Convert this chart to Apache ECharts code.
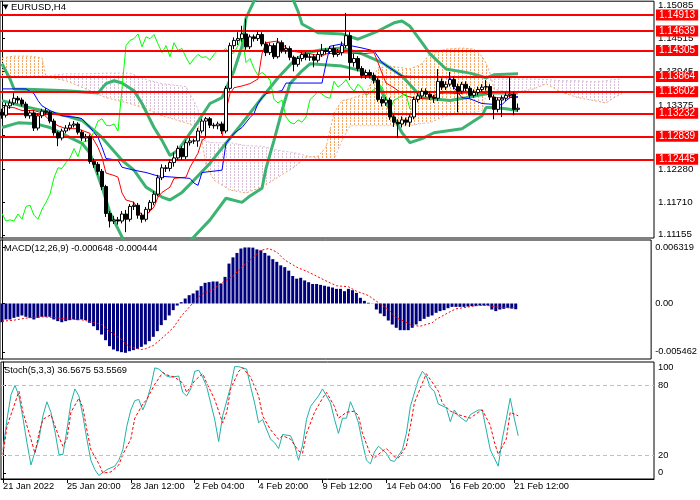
<!DOCTYPE html>
<html>
<head>
<meta charset="utf-8">
<title>EURUSD,H4</title>
<script src="https://cdn.jsdelivr.net/npm/echarts@6/dist/echarts.min.js"></script>
<style>html,body{margin:0;padding:0;background:#fff;}</style>
</head>
<body>
<div id="main" style="width:700px;height:500px;"></div>
<script type="text/javascript">
// H4 bars, index 0 = 21 Jan 2022
var opens = [1.1325,1.1320,1.1336,1.1341,1.1349,1.1346,1.1339,1.1319,1.1324,1.1298,
  1.1319,1.1327,1.1325,1.1310,1.1290,1.1281,1.1293,1.1298,1.1303,1.1305,
  1.1291,1.1281,1.1283,1.1241,1.1236,1.1224,1.1198,1.1152,1.1139,1.1141,
  1.1139,1.1151,1.1142,1.1164,1.1166,1.1149,1.1142,1.1159,1.1171,1.1185,
  1.1213,1.1230,1.1229,1.1239,1.1247,1.1263,1.1249,1.1273,1.1276,1.1276,
  1.1293,1.1310,1.1314,1.1303,1.1302,1.1305,1.1293,1.1366,1.1439,1.1448,
  1.1451,1.1459,1.1437,1.1454,1.1451,1.1458,1.1442,1.1427,1.1439,1.1420,
  1.1444,1.1431,1.1434,1.1419,1.1407,1.1417,1.1424,1.1419,1.1420,1.1414,
  1.1424,1.1431,1.1429,1.1434,1.1424,1.1427,1.1439,1.1456,1.1410,1.1417,
  1.1400,1.1388,1.1393,1.1388,1.1380,1.1347,1.1341,1.1346,1.1317,1.1308,
  1.1305,1.1312,1.1308,1.1317,1.1347,1.1353,1.1361,1.1356,1.1351,1.1349,
  1.1378,1.1368,1.1373,1.1381,1.1369,1.1361,1.1373,1.1366,1.1354,1.1359,
  1.1364,1.1368,1.1369,1.1351,1.1330,1.1346,1.1349,1.1354,1.1356,1.1330];
var closes = [1.1320,1.1336,1.1341,1.1349,1.1346,1.1339,1.1319,1.1324,1.1298,1.1319,
  1.1327,1.1325,1.1310,1.1290,1.1281,1.1293,1.1298,1.1303,1.1305,1.1291,
  1.1281,1.1283,1.1241,1.1236,1.1224,1.1198,1.1152,1.1139,1.1141,1.1139,
  1.1151,1.1142,1.1164,1.1166,1.1149,1.1142,1.1159,1.1171,1.1185,1.1213,
  1.1230,1.1229,1.1239,1.1247,1.1263,1.1249,1.1273,1.1276,1.1276,1.1293,
  1.1310,1.1314,1.1303,1.1302,1.1305,1.1293,1.1366,1.1439,1.1448,1.1451,
  1.1459,1.1437,1.1454,1.1451,1.1458,1.1442,1.1427,1.1439,1.1420,1.1444,
  1.1431,1.1434,1.1419,1.1407,1.1417,1.1424,1.1419,1.1420,1.1414,1.1424,
  1.1431,1.1429,1.1434,1.1424,1.1427,1.1439,1.1456,1.1410,1.1417,1.1400,
  1.1388,1.1393,1.1388,1.1380,1.1347,1.1341,1.1346,1.1317,1.1308,1.1305,
  1.1312,1.1308,1.1317,1.1347,1.1353,1.1361,1.1356,1.1351,1.1349,1.1378,
  1.1368,1.1373,1.1381,1.1369,1.1361,1.1373,1.1366,1.1354,1.1359,1.1364,
  1.1368,1.1369,1.1351,1.1330,1.1346,1.1349,1.1354,1.1356,1.1330,1.1332];
var lows = [1.1314,1.1316,1.1331,1.1337,1.1340,1.1335,1.1315,1.1314,1.1293,1.1294,
  1.1315,1.1320,1.1306,1.1285,1.1267,1.1277,1.1289,1.1294,1.1299,1.1287,
  1.1276,1.1275,1.1237,1.1230,1.1218,1.1192,1.1146,1.1128,1.1134,1.1133,
  1.1135,1.1120,1.1138,1.1158,1.1143,1.1136,1.1138,1.1154,1.1166,1.1181,
  1.1209,1.1223,1.1224,1.1232,1.1243,1.1244,1.1245,1.1268,1.1271,1.1266,
  1.1289,1.1283,1.1298,1.1297,1.1296,1.1288,1.1289,1.1362,1.1433,1.1440,
  1.1446,1.1432,1.1433,1.1446,1.1447,1.1438,1.1421,1.1423,1.1416,1.1417,
  1.1426,1.1425,1.1414,1.1395,1.1403,1.1412,1.1414,1.1413,1.1402,1.1410,
  1.1420,1.1424,1.1425,1.1419,1.1420,1.1422,1.1435,1.1380,1.1403,1.1395,
  1.1383,1.1382,1.1383,1.1374,1.1343,1.1335,1.1336,1.1312,1.1300,1.1281,
  1.1299,1.1302,1.1300,1.1313,1.1342,1.1348,1.1351,1.1346,1.1341,1.1344,
  1.1363,1.1363,1.1369,1.1364,1.1325,1.1356,1.1361,1.1349,1.1350,1.1354,
  1.1360,1.1362,1.1346,1.1313,1.1325,1.1317,1.1344,1.1350,1.1320,1.1326];
var highs = [1.1331,1.1341,1.1347,1.1358,1.1353,1.1350,1.1343,1.1329,1.1328,1.1323,
  1.1331,1.1332,1.1328,1.1314,1.1293,1.1297,1.1303,1.1308,1.1310,1.1308,
  1.1295,1.1288,1.1287,1.1246,1.1240,1.1228,1.1201,1.1156,1.1148,1.1146,
  1.1156,1.1158,1.1168,1.1172,1.1170,1.1153,1.1163,1.1175,1.1190,1.1218,
  1.1236,1.1235,1.1244,1.1256,1.1268,1.1267,1.1277,1.1281,1.1280,1.1298,
  1.1314,1.1317,1.1317,1.1307,1.1309,1.1309,1.1370,1.1444,1.1453,1.1462,
  1.1473,1.1485,1.1458,1.1458,1.1463,1.1462,1.1446,1.1444,1.1443,1.1452,
  1.1448,1.1440,1.1438,1.1422,1.1421,1.1428,1.1428,1.1425,1.1424,1.1428,
  1.1442,1.1435,1.1438,1.1440,1.1433,1.1446,1.1495,1.1462,1.1425,1.1421,
  1.1404,1.1398,1.1398,1.1393,1.1384,1.1352,1.1351,1.1350,1.1321,1.1313,
  1.1318,1.1316,1.1321,1.1352,1.1358,1.1366,1.1366,1.1360,1.1355,1.1399,
  1.1383,1.1378,1.1394,1.1386,1.1374,1.1377,1.1378,1.1370,1.1364,1.1369,
  1.1373,1.1380,1.1373,1.1355,1.1350,1.1354,1.1359,1.1385,1.1360,1.1340];

var tickLabels = ['21 Jan 2022','25 Jan 20:00','28 Jan 12:00','2 Feb 04:00','4 Feb 20:00','9 Feb 12:00','14 Feb 04:00','16 Feb 20:00','21 Feb 12:00'];
var tickStep = 16;
var priceTicks = [1.15085,1.14515,1.13945,1.13375,1.12850,1.12280,1.11710,1.11155];
var levels = [1.14913,1.14639,1.14305,1.13864,1.13602,1.13232,1.12839,1.12445];

// Bollinger bands [bar, price]
var bbUpper = [[0,1.1408],[2,1.1382],[3,1.1365],[8,1.1364],[16,1.1362],[24,1.1358],[26,1.1374],[28,1.1379],[30,1.1375],[33,1.1362],[35,1.1340],[38,1.1299],[40,1.1277],[42,1.1251],[44,1.1260],[48,1.1299],[52,1.1340],[55,1.1350],[58,1.1396],[60,1.1438],[61,1.1486],[63,1.1515],[66,1.1540],[70,1.1545],[72,1.1530],[74,1.1498],[75,1.1476],[79,1.1461],[85,1.1459],[89,1.1450],[94,1.1464],[98,1.1478],[100,1.1481],[102,1.1472],[105,1.1444],[107,1.1425],[111,1.1399],[117,1.1392],[121,1.1384],[123,1.1389],[129,1.1391]];
var bbMid = [[0,1.1345],[5,1.1336],[10,1.1328],[16,1.1319],[20,1.1311],[25,1.1282],[30,1.1243],[33,1.1226],[36,1.1197],[40,1.1180],[42,1.1175],[45,1.1188],[48,1.1209],[52,1.1238],[56,1.1272],[60,1.1306],[65,1.1350],[69,1.1384],[73,1.1413],[76,1.1427],[80,1.1432],[85,1.1435],[90,1.1425],[95,1.1410],[100,1.1387],[105,1.1350],[112,1.1345],[116,1.1350],[122,1.1358],[129,1.1358]];
var bbLower = [[0,1.1299],[4,1.1307],[8,1.1306],[12,1.1299],[16,1.1285],[20,1.1272],[22,1.1255],[25,1.1197],[27,1.1153],[30,1.1112],[32,1.1081],[37,1.1056],[42,1.1090],[46,1.1098],[48,1.1112],[52,1.1141],[56,1.1178],[60,1.1171],[62,1.1182],[65,1.1195],[66,1.1229],[68,1.1277],[70,1.1328],[72,1.1374],[75,1.1396],[77,1.1408],[85,1.1404],[90,1.1396],[94,1.1375],[97,1.1328],[100,1.1290],[102,1.1273],[105,1.1280],[108,1.1290],[115,1.1297],[120,1.1319],[121,1.1333],[123,1.1333],[126,1.1331],[129,1.1328]];

// Ichimoku
var tenkan = [[0,1.1333],[3,1.1333],[5,1.1328],[8,1.1328],[10,1.1324],[12,1.1311],[14,1.1302],[16,1.1297],[19,1.1297],[20,1.1294],[22,1.1289],[24,1.1265],[25,1.1248],[26,1.1221],[28,1.1217],[29,1.1214],[30,1.1187],[31,1.1175],[33,1.1171],[34,1.1158],[35,1.1149],[36,1.1149],[38,1.1163],[39,1.1180],[40,1.1188],[42,1.1197],[43,1.1212],[46,1.1214],[47,1.1231],[49,1.1255],[50,1.1277],[51,1.1282],[55,1.1282],[56,1.1328],[57,1.1357],[58,1.1367],[60,1.1370],[62,1.1374],[64,1.1382],[65,1.1425],[66,1.1444],[69,1.1447],[70,1.1442],[72,1.1430],[75,1.1427],[77,1.1425],[80,1.1421],[81,1.1425],[85,1.1427],[90,1.1425],[93,1.1427],[94,1.1410],[95,1.1392],[96,1.1375],[98,1.1367],[99,1.1362],[101,1.1353],[104,1.1348],[107,1.1350],[109,1.1357],[111,1.1358],[114,1.1357],[116,1.1358],[120,1.1358],[121,1.1357],[123,1.1350],[125,1.1350],[127,1.1353],[129,1.1350]];
var kijun = [[0,1.1365],[6,1.1365],[8,1.1357],[9,1.1345],[10,1.1336],[12,1.1328],[15,1.1319],[19,1.1316],[20,1.1314],[22,1.1299],[24,1.1282],[25,1.1265],[26,1.1246],[29,1.1243],[30,1.1231],[33,1.1226],[36,1.1222],[39,1.1216],[47,1.1212],[48,1.1204],[49,1.1200],[50,1.1222],[55,1.1226],[56,1.1272],[58,1.1289],[60,1.1299],[62,1.1316],[63,1.1323],[64,1.1340],[65,1.1350],[66,1.1357],[70,1.1362],[71,1.1375],[80,1.1375],[81,1.1408],[82,1.1438],[85,1.1442],[90,1.1435],[93,1.1430],[95,1.1410],[98,1.1396],[100,1.1387],[112,1.1384],[113,1.1367],[115,1.1350],[117,1.1348],[120,1.1340],[124,1.1338],[125,1.1338],[126,1.1345],[127,1.1350],[129,1.1352]];
var chikouShift = 26;
var spanIdx = [0,3,7,10,11,16,21,26,32,36,40,46,49,50,51,53,57,61,65,69,73,76,79,81,83,85,87,91,94,97,102,105,107,111,115,118,120,121,122,123,127,133,136,140,144,148,151,153,155];
var spanA = [1.1418,1.1421,1.1421,1.1418,1.1386,1.1379,1.1365,1.1350,1.1340,1.1331,1.1319,1.1307,1.1299,1.1277,1.1234,1.1209,1.1192,1.1187,1.1197,1.1214,1.1231,1.1248,1.1250,1.1265,1.1324,1.1345,1.1348,1.1357,1.1401,1.1404,1.1399,1.1408,1.1425,1.1433,1.1435,1.1433,1.1421,1.1409,1.1392,1.1365,1.1357,1.1365,1.1374,1.1359,1.1350,1.1345,1.1341,1.1350,1.1357];
var spanB = [1.1384,1.1384,1.1386,1.1387,1.1387,1.1391,1.1391,1.1392,1.1392,1.1381,1.1374,1.1369,1.1331,1.1280,1.1275,1.1273,1.1273,1.1268,1.1267,1.1260,1.1256,1.1251,1.1246,1.1243,1.1243,1.1277,1.1302,1.1302,1.1302,1.1302,1.1302,1.1306,1.1307,1.1319,1.1323,1.1324,1.1328,1.1353,1.1379,1.1382,1.1382,1.1382,1.1381,1.1379,1.1379,1.1377,1.1379,1.1381,1.1382];

// MACD(12,26,9)
var macdMain = [-0.00211,-0.00180,-0.00180,-0.00162,-0.00150,-0.00135,-0.00150,-0.00162,-0.00180,-0.00162,
  -0.00150,-0.00150,-0.00150,-0.00180,-0.00199,-0.00211,-0.00199,-0.00188,-0.00180,-0.00188,
  -0.00180,-0.00188,-0.00218,-0.00256,-0.00301,-0.00350,-0.00414,-0.00481,-0.00519,-0.00538,
  -0.00549,-0.00556,-0.00538,-0.00526,-0.00511,-0.00489,-0.00462,-0.00425,-0.00376,-0.00312,
  -0.00244,-0.00188,-0.00135,-0.00075,-0.00023,0.00015,0.00056,0.00094,0.00113,0.00147,
  0.00196,0.00233,0.00241,0.00248,0.00248,0.00226,0.00300,0.00450,0.00520,0.00570,
  0.00620,0.00632,0.00632,0.00630,0.00610,0.00600,0.00570,0.00540,0.00500,0.00470,
  0.00430,0.00410,0.00370,0.00310,0.00280,0.00290,0.00260,0.00240,0.00220,0.00220,
  0.00210,0.00200,0.00190,0.00180,0.00165,0.00165,0.00139,0.00165,0.00150,0.00120,
  0.00064,0.00030,0.00008,-0.00002,-0.00068,-0.00113,-0.00143,-0.00192,-0.00237,-0.00274,
  -0.00301,-0.00301,-0.00301,-0.00274,-0.00237,-0.00199,-0.00173,-0.00150,-0.00135,-0.00105,
  -0.00086,-0.00075,-0.00053,-0.00038,-0.00038,-0.00038,-0.00038,-0.00034,-0.00030,-0.00030,
  -0.00023,-0.00023,-0.00023,-0.00068,-0.00086,-0.00068,-0.00060,-0.00049,-0.00058,-0.00065];
var macdSignal = [[0,-0.0020],[3,-0.00188],[6,-0.00165],[10,-0.0015],[13,-0.00158],[16,-0.00173],[20,-0.00184],[22,-0.00203],[25,-0.00237],[27,-0.00312],[30,-0.00406],[32,-0.00489],[35,-0.00519],[36,-0.00511],[38,-0.00474],[40,-0.00399],[43,-0.00274],[45,-0.00143],[48,0.00008],[50,0.00102],[53,0.00158],[55,0.00226],[58,0.00308],[60,0.00402],[62,0.00477],[65,0.0060],[67,0.0062],[69,0.0058],[71,0.0049],[74,0.0041],[77,0.00353],[79,0.00308],[82,0.0024],[84,0.0020],[87,0.00188],[89,0.00139],[92,0.0009],[94,0.00026],[97,-0.00068],[99,-0.00162],[101,-0.0020],[103,-0.00248],[105,-0.00256],[108,-0.00218],[109,-0.0018],[112,-0.00105],[114,-0.0006],[117,-0.00041],[119,-0.00023],[122,-0.00023],[124,-0.00038],[127,-0.00049],[129,-0.000444]];
var macdTicks = [0.006319, 0, -0.005462];

// Stochastic(5,3,3)
var stochMain = [[0,25],[1,51],[2,72],[3,80],[4,71],[5,52],[6,31],[7,12],[9,34],[10,54],[11,66],[12,57],[13,41],[14,21],[15,21],[16,42],[17,65],[18,77],[19,71],[20,54],[21,34],[22,16],[23,8],[24,3],[26,8],[28,11],[29,16],[30,25],[31,45],[32,59],[33,67],[34,68],[35,59],[36,67],[37,79],[38,95],[39,94],[41,88],[42,87],[44,88],[45,74],[46,71],[47,77],[48,92],[49,93],[50,87],[51,79],[52,65],[53,51],[54,32],[55,54],[57,79],[58,96],[59,96],[61,94],[62,79],[63,65],[64,48],[65,51],[67,34],[68,31],[69,26],[70,38],[72,37],[73,29],[74,16],[75,29],[76,51],[77,62],[79,71],[80,77],[82,65],[83,51],[84,39],[85,52],[86,52],[87,66],[88,58],[89,48],[90,31],[91,16],[92,13],[93,23],[94,28],[96,22],[97,16],[98,15],[100,25],[101,39],[102,62],[104,85],[105,92],[106,88],[107,78],[108,75],[109,64],[111,61],[112,49],[113,59],[114,54],[116,49],[117,55],[119,59],[120,59],[121,42],[122,25],[124,11],[125,34],[126,51],[127,69],[128,52],[129,37]];
var stochSignal = [[0,21],[1,45],[3,65],[4,75],[5,57],[7,34],[8,22],[9,39],[10,51],[12,55],[14,36],[15,28],[16,34],[17,57],[19,69],[20,61],[21,42],[22,25],[24,13],[25,5],[27,6],[29,12],[30,21],[32,34],[33,52],[35,64],[36,68],[38,81],[40,91],[41,89],[43,87],[45,82],[46,74],[48,84],[50,90],[51,82],[53,68],[55,48],[56,57],[57,77],[59,92],[60,95],[62,87],[64,71],[65,54],[67,42],[69,34],[70,37],[72,34],[74,24],[75,22],[76,39],[78,57],[80,69],[81,74],[83,62],[84,52],[86,57],[88,58],[89,54],[90,39],[92,21],[93,18],[95,24],[96,26],[98,19],[99,18],[101,28],[102,45],[103,65],[105,82],[106,90],[107,85],[109,75],[110,65],[112,58],[114,55],[115,54],[117,52],[119,57],[120,59],[122,46],[123,32],[124,21],[126,34],[127,57],[129,54]];
var stochLevels = [20, 80];

var FONT = 'Liberation Sans, Arial, sans-serif';

// vertical dashed hatch, like the MT4 cloud
function hatch(color) {
  var cv = document.createElement('canvas');
  cv.width = 4; cv.height = 3;
  var ctx = cv.getContext('2d');
  ctx.fillStyle = color;
  ctx.fillRect(2, 0, 1, 2);
  return { image: cv, repeat: 'repeat' };
}
var bullHatch = hatch('#F4A460');
var bearHatch = hatch('#D8BFD8');

var candleData = closes.map(function (c, i) { return [i, opens[i], c, lows[i], highs[i]]; });
var chikou = closes.slice(chikouShift).map(function (c, k) { return [k, c]; });
var cloudSegs = [];
for (var k = 0; k < spanIdx.length - 1; k++) {
  cloudSegs.push([spanIdx[k], spanA[k], spanB[k], spanIdx[k + 1], spanA[k + 1], spanB[k + 1]]);
}

function line(data, color, width, dash, grid) {
  return {
    type: 'line', data: data, xAxisIndex: grid || 0, yAxisIndex: grid || 0,
    symbol: 'none', silent: true,
    lineStyle: { color: color, width: width, type: dash || 'solid' },
    z: 3
  };
}

var myChart = echarts.init(document.getElementById('main'));
var option = {
  animation: false,
  backgroundColor: '#fff',
  textStyle: { fontFamily: FONT },
  title: [
    { text: '{a|▼} EURUSD,H4', left: 3, top: 2, padding: 0,
      textStyle: { fontSize: 9.5, fontWeight: 'normal', color: '#000', fontFamily: FONT,
        rich: { a: { fontSize: 7, fontFamily: 'DejaVu Sans', color: '#000' } } } },
    { text: 'MACD(12,26,9) -0.000648 -0.000444', left: 4, top: 244, padding: 0,
      textStyle: { fontSize: 9.3, fontWeight: 'normal', color: '#000', fontFamily: FONT } },
    { text: 'Stoch(5,3,3) 36.5675 53.5569', left: 4, top: 366, padding: 0,
      textStyle: { fontSize: 9.3, fontWeight: 'normal', color: '#000', fontFamily: FONT } }
  ],
  grid: [
    { left: 0, right: 46, top: 0, height: 238, show: true, borderColor: '#000', borderWidth: 1 },
    { left: 0, right: 46, top: 240, height: 119, show: true, borderColor: '#000', borderWidth: 1 },
    { left: 0, right: 46, top: 362, height: 117, show: true, borderColor: '#000', borderWidth: 1 }
  ],
  xAxis: [
    { type: 'value', gridIndex: 0, min: -0.5, max: 163, show: false },
    { type: 'value', gridIndex: 1, min: -0.5, max: 163, show: false },
    { type: 'value', gridIndex: 2, min: -0.5, max: 163,
      splitLine: { show: false },
      axisLine: { show: true, lineStyle: { color: '#000' } },
      axisTick: { show: true, length: 4, lineStyle: { color: '#000' },
        customValues: tickLabels.map(function (t, j) { return j * tickStep; }) },
      axisLabel: { customValues: tickLabels.map(function (t, j) { return j * tickStep; }),
        formatter: function (v) { return tickLabels[Math.round(v / tickStep)]; },
        align: 'left', margin: 3, fontSize: 9.3, color: '#000', fontFamily: FONT } }
  ],
  yAxis: [
    { type: 'value', gridIndex: 0, position: 'right', min: 1.1110, max: 1.1515,
      splitLine: { show: false },
      axisLine: { show: true, lineStyle: { color: '#000' } },
      axisTick: { show: true, length: 3, lineStyle: { color: '#000' }, customValues: priceTicks },
      axisLabel: { customValues: priceTicks, formatter: function (v) { return v.toFixed(5); },
        margin: 4, fontSize: 9.8, color: '#000', fontFamily: FONT } },
    { type: 'value', gridIndex: 1, position: 'right', min: -0.00626, max: 0.00716,
      splitLine: { show: false },
      axisLine: { show: true, lineStyle: { color: '#000' } },
      axisTick: { show: true, length: 3, lineStyle: { color: '#000' }, customValues: macdTicks },
      axisLabel: { customValues: macdTicks,
        formatter: function (v) { return v === 0 ? '0.00' : v.toFixed(6); },
        margin: 4, fontSize: 9.3, color: '#000', fontFamily: FONT } },
    { type: 'value', gridIndex: 2, position: 'right', min: 0, max: 100,
      splitLine: { show: false },
      axisLine: { show: true, lineStyle: { color: '#000' } },
      // edge labels (0 and 100) sit inside the pane like the terminal does
      axisTick: { show: true, length: 3, lineStyle: { color: '#000' }, customValues: [5.3, 20, 80, 95.3] },
      axisLabel: { customValues: [5.3, 20, 80, 95.3],
        formatter: function (v) { return v < 10 ? '0' : (v > 90 ? '100' : String(v)); },
        margin: 4, fontSize: 9.3, color: '#000', fontFamily: FONT } }
  ],
  series: [
    {
      type: 'custom', xAxisIndex: 0, yAxisIndex: 0, data: cloudSegs, silent: true, z: 1,
      encode: { x: [0, 3], y: [1, 2, 4, 5] },
      renderItem: function (params, api) {
        var a0 = api.coord([api.value(0), api.value(1)]);
        var b0 = api.coord([api.value(0), api.value(2)]);
        var a1 = api.coord([api.value(3), api.value(4)]);
        var b1 = api.coord([api.value(3), api.value(5)]);
        var up = api.value(1) + api.value(4) >= api.value(2) + api.value(5);
        return { type: 'polygon', shape: { points: [a0, a1, b1, b0] },
          style: { fill: up ? bullHatch : bearHatch, stroke: null } };
      }
    },
    line(spanIdx.map(function (i, j) { return [i, spanA[j]]; }), '#F4A460', 1, [2, 2]),
    line(spanIdx.map(function (i, j) { return [i, spanB[j]]; }), '#D8BFD8', 1, [2, 2]),
    line(bbUpper, '#3CB371', 3),
    line(bbMid, '#3CB371', 3),
    line(bbLower, '#3CB371', 3),
    line(tenkan, '#FF0000', 1),
    line(kijun, '#0000FF', 1),
    line(chikou, '#00FF00', 1),
    {
      type: 'candlestick', xAxisIndex: 0, yAxisIndex: 0, data: candleData, barWidth: 3, z: 5,
      silent: true,
      itemStyle: { color: '#fff', color0: '#000', borderColor: '#000', borderColor0: '#000', borderWidth: 1 }
    },
    {
      type: 'line', xAxisIndex: 0, yAxisIndex: 0, data: [], z: 8,
      markLine: {
        silent: true, symbol: ['none', 'none'], precision: 6,
        lineStyle: { opacity: 0 },
        label: { position: 'end', distance: 2, color: '#fff', backgroundColor: '#000',
          fontSize: 10, fontFamily: FONT, padding: [1, 3, 0, 3], formatter: '{b}' },
        data: [{ yAxis: closes[closes.length - 1], name: closes[closes.length - 1].toFixed(5) }]
      }
    },
    {
      type: 'line', xAxisIndex: 0, yAxisIndex: 0, data: [], z: 10,
      markLine: {
        silent: true, symbol: ['none', 'none'], precision: 6,
        lineStyle: { color: '#FF0000', width: 2, type: 'solid' },
        label: { position: 'end', distance: 2, color: '#fff', backgroundColor: '#FF0000',
          fontSize: 10, fontFamily: FONT, padding: [1, 3, 0, 3], formatter: '{b}' },
        data: levels.map(function (v) { return { yAxis: v, name: v.toFixed(5) }; })
      }
    },
    {
      type: 'bar', xAxisIndex: 1, yAxisIndex: 1, barWidth: 3, silent: true,
      data: macdMain.map(function (v, i) { return [i, v]; }),
      itemStyle: { color: '#000080' }
    },
    line(macdSignal, '#FF0000', 1, [2, 2], 1),
    {
      type: 'line', xAxisIndex: 2, yAxisIndex: 2, data: stochMain, symbol: 'none', silent: true,
      lineStyle: { color: '#20B2AA', width: 1 }, z: 3,
      markLine: {
        silent: true, symbol: ['none', 'none'], label: { show: false },
        lineStyle: { color: '#C0C0C0', width: 1, type: [4, 3] },
        data: stochLevels.map(function (v) { return { yAxis: v }; })
      }
    },
    line(stochSignal, '#FF0000', 1, [3, 2], 2)
  ]
};
myChart.setOption(option);
</script>
</body>
</html>
